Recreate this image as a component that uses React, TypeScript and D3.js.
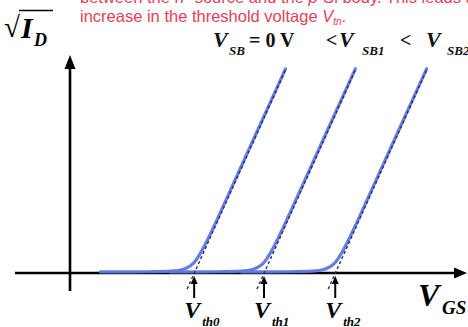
import { scaleLinear, line, curveBasis } from 'd3'

// sqrt(I_D) vs V_GS (arbitrary units)
const curveSB0 = [
  [0.43, 0], [1.16, 0], [1.46, 0.02], [1.61, 0.1], [1.76, 0.35],
  [1.91, 1.3], [2.06, 2.4], [2.36, 4.75], [3.055, 10.15],
]
const curveSB1 = [
  [1.42, 0], [2.15, 0], [2.45, 0.02], [2.6, 0.1], [2.75, 0.35],
  [2.9, 1.3], [3.05, 2.4], [3.35, 4.75], [4.045, 10.15],
]
const curveSB2 = [
  [2.43, 0], [3.16, 0], [3.46, 0.02], [3.61, 0.1], [3.76, 0.35],
  [3.91, 1.3], [4.06, 2.4], [4.36, 4.75], [5.055, 10.15],
]
const curves = [curveSB0, curveSB1, curveSB2]

// dashed extrapolation of the linear part
const tangents = [
  [[1.66, -0.8], [3.055, 10.15]],
  [[2.65, -0.8], [4.045, 10.15]],
  [[3.66, -0.8], [5.055, 10.15]],
]

const thresholds = [1.76, 2.75, 3.76]
const thresholdSubs = ['th0', 'th1', 'th2']

const W = 468
const H = 327

const App = () => {
  const x = scaleLinear().domain([0, 5.5]).range([70, 458])
  const y = scaleLinear().domain([0, 10]).range([273, 73])

  const gen = line<number[]>()
    .x((d) => x(d[0]))
    .y((d) => y(d[1]))
    .curve(curveBasis)
  const straight = line<number[]>()
    .x((d) => x(d[0]))
    .y((d) => y(d[1]))

  const x0 = x(0)
  const y0 = y(0)
  const serif = '"Liberation Serif", "Times New Roman", serif'

  return (
    <svg
      width={W}
      height={H}
      style={{ position: 'absolute', left: 0, top: 0, background: '#fff' }}
    >
      {/* red note, first line cut by the top edge */}
      <g fill="#e8405a" fontFamily='"Liberation Sans", Arial, sans-serif' fontSize={16.5}>
        <text x={80} y={3}>
          between the n<tspan fontSize={11} dy={-6}>+</tspan>
          <tspan dy={6}> source and the </tspan>
          <tspan fontStyle="italic">p</tspan>-Si body.  This leads to an
        </text>
        <text x={80} y={21.5}>
          increase in the threshold voltage <tspan fontStyle="italic">V</tspan>
          <tspan fontSize={10} dy={3} fontStyle="italic">tn</tspan>
          <tspan dy={-3}>.</tspan>
        </text>
      </g>

      {/* axes */}
      <line x1={15} y1={y0} x2={457} y2={y0} stroke="#000" strokeWidth={2.6} />
      <path d={`M467,${y0} L454,${y0 - 5.5} L454,${y0 + 5.5} Z`} fill="#000" />
      <line x1={x0} y1={291} x2={x0} y2={66} stroke="#000" strokeWidth={2.6} />
      <path d={`M${x0},55 L${x0 - 5.5},69 L${x0 + 5.5},69 Z`} fill="#000" />

      {/* curves */}
      <g transform="translate(0,-1.2)">
        {curves.map((c, i) => (
          <path
            key={i}
            d={gen(c) ?? ''}
            fill="none"
            stroke="#6176de"
            strokeWidth={3.2}
            strokeLinecap="round"
            opacity={0.95}
          />
        ))}
      </g>
      {tangents.map((t, i) => (
        <path
          key={i}
          d={straight(t) ?? ''}
          fill="none"
          stroke="#262b6a"
          strokeWidth={1.4}
          strokeDasharray="3 2.5"
        />
      ))}

      {/* threshold markers */}
      {thresholds.map((v, i) => {
        const px = x(v)
        return (
          <g key={i}>
            <line x1={px} y1={298} x2={px} y2={282} stroke="#000" strokeWidth={2} />
            <path d={`M${px},276 L${px - 3.5},284 L${px + 3.5},284 Z`} fill="#000" />
            <text
              x={px - 10}
              y={318}
              fontFamily={serif}
              fontWeight="bold"
              fontStyle="italic"
              fontSize={24}
            >
              V
            </text>
            <text
              x={px + 8}
              y={326}
              fontFamily={serif}
              fontWeight="bold"
              fontStyle="italic"
              fontSize={13}
            >
              {thresholdSubs[i]}
            </text>
          </g>
        )
      })}

      {/* sqrt(I_D) label */}
      <g fontFamily={serif} fontWeight="bold">
        <text x={4} y={37} fontSize={29}>√</text>
        <line x1={19} y1={10.5} x2={53} y2={10.5} stroke="#000" strokeWidth={1.5} />
        <text x={21} y={38} fontSize={30} fontStyle="italic">I</text>
        <text x={34} y={46} fontSize={18} fontStyle="italic">D</text>
      </g>

      {/* V_SB labels */}
      <g fontFamily={serif} fontWeight="bold" fill="#111">
        <text x={213} y={47} fontSize={22} fontStyle="italic">V</text>
        <text x={229} y={55} fontSize={13} fontStyle="italic">SB</text>
        <text x={249} y={47} fontSize={20}>= 0 V</text>
        <text x={326} y={47} fontSize={20}>&lt;</text>
        <text x={339} y={47} fontSize={22} fontStyle="italic">V</text>
        <text x={362} y={55} fontSize={13} fontStyle="italic">SB1</text>
        <text x={400} y={47} fontSize={20}>&lt;</text>
        <text x={426} y={47} fontSize={22} fontStyle="italic">V</text>
        <text x={447} y={55} fontSize={13} fontStyle="italic">SB2</text>
      </g>

      {/* V_GS label */}
      <g fontFamily={serif} fontWeight="bold" fontStyle="italic">
        <text x={418} y={306} fontSize={32}>V</text>
        <text x={442} y={314} fontSize={19}>GS</text>
      </g>
    </svg>
  )
}

export default App
